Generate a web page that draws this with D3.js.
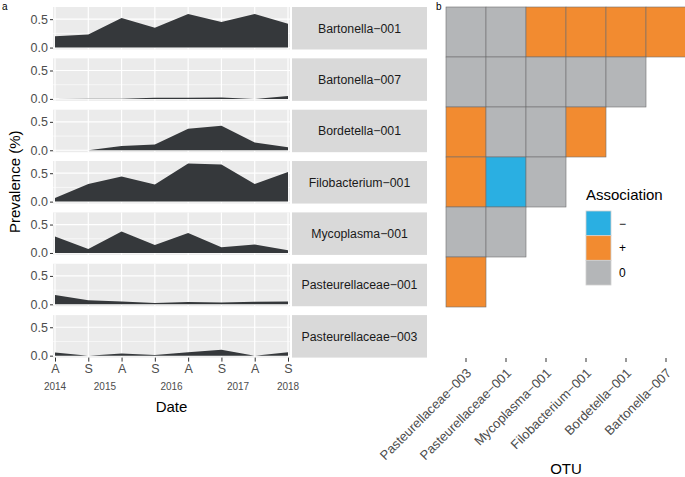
<!DOCTYPE html>
<html>
<head>
<meta charset="utf-8">
<script src="https://cdn.jsdelivr.net/npm/d3@7"></script>
<style>
  body { margin: 0; background: #fff; }
  text { font-family: "Liberation Sans", Arial, sans-serif; }
</style>
</head>
<body>
<svg id="chart"></svg>
<script>
// data
const otus = [
  "Bartonella-001",
  "Bartonella-007",
  "Bordetella-001",
  "Filobacterium-001",
  "Mycoplasma-001",
  "Pasteurellaceae-001",
  "Pasteurellaceae-003",
];
const seasonLabels = ["A", "S", "A", "S", "A", "S", "A", "S"];
const yearLabels = ["2014", "2015", "2016", "2017", "2018"];
const yearPos = [0, 1.5, 3.5, 5.5, 7];
const prevalence = [
  [0.2, 0.23, 0.52, 0.35, 0.59, 0.45, 0.59, 0.42],
  [0, 0.003, 0.005, 0.02, 0.02, 0.025, 0, 0.05],
  [0, 0, 0.077, 0.1, 0.38, 0.43, 0.135, 0.055],
  [0.065, 0.31, 0.44, 0.3, 0.67, 0.655, 0.31, 0.52],
  [0.29, 0.07, 0.376, 0.14, 0.35, 0.1, 0.147, 0.05],
  [0.165, 0.07, 0.05, 0.025, 0.04, 0.03, 0.045, 0.05],
  [0.055, 0, 0.04, 0.01, 0.06, 0.105, 0, 0.06],
];
const yTicks = [0, 0.5];
const yMinor = [0.25];

// association matrix (rows top->bottom = otus, columns below)
const assocCols = [
  "Pasteurellaceae-003",
  "Pasteurellaceae-001",
  "Mycoplasma-001",
  "Filobacterium-001",
  "Bordetella-001",
  "Bartonella-007",
];
const assoc = [
  ["0", "0", "+", "+", "+", "+"],
  ["0", "0", "0", "0", "0"],
  ["+", "0", "0", "+"],
  ["+", "-", "0"],
  ["0", "0"],
  ["+"],
  [],
];
const assocLevels = ["-", "+", "0"];
const assocText = ["\u2212", "+", "0"];
const assocColors = ["#2AAFE2", "#F28B30", "#B4B6B8"];

// canvas variables
const width = 685;
const height = 477;
const panelLeft = 53;
const panelRight = 290;
const panelTop = 7;
const panelStep = 51.35;
const panelH = 42.5;
const stripLeft = 292;
const stripRight = 427;
const textColor = "#4D4D4D";
const axisFont = "12.5px";
const titleFont = "15px";
const minus = (s) => s.replace("-", "\u2212");

const svg = d3.select("#chart").attr("width", width).attr("height", height);

// x scale for the time panels
const xScale = d3
  .scaleLinear()
  .domain([0, seasonLabels.length - 1])
  .range([55, 288]);

// panels
otus.forEach((name, i) => {
  const top = panelTop + i * panelStep;
  const yScale = d3
    .scaleLinear()
    .domain([-0.034, 0.714])
    .range([top + panelH, top]);
  const g = svg.append("g");

  g.append("rect")
    .attr("x", panelLeft)
    .attr("y", top)
    .attr("width", panelRight - panelLeft)
    .attr("height", panelH)
    .style("fill", "#EBEBEB");

  // minor grid
  g.selectAll(".minor")
    .data(yMinor)
    .enter()
    .append("line")
    .attr("x1", panelLeft)
    .attr("x2", panelRight)
    .attr("y1", (d) => yScale(d))
    .attr("y2", (d) => yScale(d))
    .style("stroke", "#fff")
    .style("stroke-width", 0.6);

  // major grid
  g.selectAll(".hmajor")
    .data(yTicks)
    .enter()
    .append("line")
    .attr("x1", panelLeft)
    .attr("x2", panelRight)
    .attr("y1", (d) => yScale(d))
    .attr("y2", (d) => yScale(d))
    .style("stroke", "#fff")
    .style("stroke-width", 1.2);

  g.selectAll(".vmajor")
    .data(seasonLabels)
    .enter()
    .append("line")
    .attr("x1", (d, j) => xScale(j))
    .attr("x2", (d, j) => xScale(j))
    .attr("y1", top)
    .attr("y2", top + panelH)
    .style("stroke", "#fff")
    .style("stroke-width", 1.2);

  const area = d3
    .area()
    .x((d, j) => xScale(j))
    .y0(yScale(0))
    .y1((d) => yScale(d));

  g.append("path")
    .datum(prevalence[i])
    .attr("d", area)
    .style("fill", "#35383B");

  // y axis
  const yAxis = g
    .append("g")
    .attr("transform", `translate(${panelLeft}, 0)`)
    .call(d3.axisLeft(yScale).tickValues(yTicks).tickFormat(d3.format(".1f")).tickSize(3).tickPadding(2));
  yAxis.select(".domain").remove();
  yAxis.selectAll("line").style("stroke", "#333").style("stroke-width", 1);
  yAxis
    .selectAll("text")
    .style("fill", textColor)
    .style("font-size", axisFont)
    .style("font-family", "Liberation Sans, Arial, sans-serif");

  // strip
  g.append("rect")
    .attr("x", stripLeft)
    .attr("y", top)
    .attr("width", stripRight - stripLeft)
    .attr("height", panelH)
    .style("fill", "#D9D9D9");
  g.append("text")
    .attr("x", (stripLeft + stripRight) / 2)
    .attr("y", top + panelH / 2)
    .attr("dy", "0.35em")
    .style("text-anchor", "middle")
    .style("font-size", "12.3px")
    .style("fill", "#1A1A1A")
    .text(minus(name));
});

// x axis under last panel
const axisY = panelTop + 6 * panelStep + panelH;
const xAxis = svg
  .append("g")
  .attr("transform", `translate(0, ${axisY})`)
  .call(
    d3
      .axisBottom(xScale)
      .tickValues(d3.range(seasonLabels.length))
      .tickFormat((d) => seasonLabels[d])
      .tickSize(4)
      .tickPadding(3)
  );
xAxis.select(".domain").remove();
xAxis.selectAll("line").style("stroke", "#333");
xAxis
  .selectAll("text")
  .style("fill", textColor)
  .style("font-size", axisFont)
  .style("font-family", "Liberation Sans, Arial, sans-serif");

svg
  .selectAll(".year")
  .data(yearLabels)
  .enter()
  .append("text")
  .attr("x", (d, i) => xScale(yearPos[i]))
  .attr("y", axisY + 32)
  .style("text-anchor", "middle")
  .style("font-size", "10px")
  .style("fill", textColor)
  .text((d) => d);

// axis titles
svg
  .append("text")
  .attr("x", (panelLeft + panelRight) / 2)
  .attr("y", 412)
  .style("text-anchor", "middle")
  .style("font-size", titleFont)
  .style("fill", "#000")
  .text("Date");

svg
  .append("text")
  .attr("transform", `translate(20, ${axisY / 2 + 3}) rotate(-90)`)
  .style("text-anchor", "middle")
  .style("font-size", titleFont)
  .style("fill", "#000")
  .text("Prevalence (%)");

svg.append("text").attr("x", 2).attr("y", 10).style("font-size", "10px").text("a");
svg.append("text").attr("x", 436).attr("y", 10).style("font-size", "10px").text("b");

// heatmap
const hx = d3.scaleBand().domain(assocCols).range([446, 686]);
const hy = d3.scaleBand().domain(otus).range([7, 357]);
const hColor = d3.scaleOrdinal().domain(assocLevels).range(assocColors);

const cells = [];
otus.forEach((r, i) => {
  assoc[i].forEach((v, j) => {
    cells.push({ row: r, col: assocCols[j], value: v });
  });
});

svg
  .selectAll(".cell")
  .data(cells)
  .enter()
  .append("rect")
  .attr("class", "cell")
  .attr("x", (d) => hx(d.col))
  .attr("y", (d) => hy(d.row))
  .attr("width", hx.bandwidth())
  .attr("height", hy.bandwidth())
  .style("fill", (d) => hColor(d.value))
  .style("stroke", "#6E6E6E")
  .style("stroke-width", 0.6);

const hAxis = svg
  .append("g")
  .attr("transform", "translate(0, 358)")
  .call(d3.axisBottom(hx).tickSize(4).tickPadding(2));
hAxis.select(".domain").remove();
hAxis.selectAll("line").style("stroke", "#333");
hAxis
  .selectAll("text")
  .attr("x", 0)
  .attr("y", 0)
  .attr("dy", 0)
  .attr("transform", "translate(6, 16) rotate(-45)")
  .style("text-anchor", "end")
  .style("fill", textColor)
  .style("font-size", "13px")
  .style("font-family", "Liberation Sans, Arial, sans-serif")
  .text((d) => minus(d));

svg
  .append("text")
  .attr("x", 566)
  .attr("y", 474)
  .style("text-anchor", "middle")
  .style("font-size", titleFont)
  .style("fill", "#000")
  .text("OTU");

// legend
svg
  .append("text")
  .attr("x", 586)
  .attr("y", 200)
  .style("font-size", titleFont)
  .style("fill", "#000")
  .text("Association");

const legendY = d3.scaleBand().domain(assocLevels).range([211, 285]);
svg
  .selectAll(".key")
  .data(assocLevels)
  .enter()
  .append("rect")
  .attr("x", 586)
  .attr("y", (d) => legendY(d))
  .attr("width", 25)
  .attr("height", legendY.bandwidth())
  .style("fill", (d) => hColor(d))
  .style("stroke", "#D0D0D0")
  .style("stroke-width", 0.8);

svg
  .selectAll(".keylab")
  .data(assocLevels)
  .enter()
  .append("text")
  .attr("x", 619)
  .attr("y", (d) => legendY(d) + legendY.bandwidth() / 2)
  .attr("dy", "0.35em")
  .style("font-size", "12px")
  .style("fill", "#000")
  .text((d, i) => assocText[i]);
</script>
</body>
</html>
